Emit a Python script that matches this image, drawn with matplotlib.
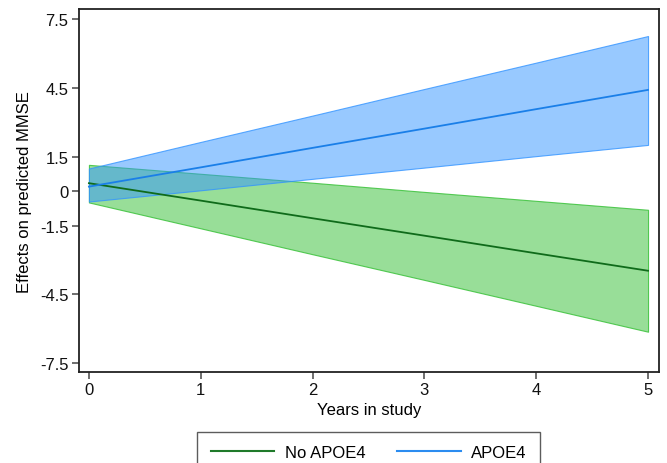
import matplotlib
matplotlib.use("Agg")
import matplotlib.pyplot as plt
from matplotlib.lines import Line2D

plt.rcParams['font.family'] = ['Liberation Sans', 'DejaVu Sans']

years = [0, 1, 2, 3, 4, 5]
no_apoe4_mean = [0.35, -0.41, -1.18, -1.94, -2.71, -3.47]
no_apoe4_upper = [1.15, 0.76, 0.37, -0.03, -0.42, -0.81]
no_apoe4_lower = [-0.49, -1.62, -2.75, -3.87, -5.00, -6.13]
apoe4_mean = [0.20, 1.04, 1.89, 2.73, 3.58, 4.42]
apoe4_upper = [0.99, 2.15, 3.30, 4.46, 5.61, 6.77]
apoe4_lower = [-0.45, 0.04, 0.54, 1.03, 1.53, 2.02]
yticks = [7.5, 4.5, 1.5, 0, -1.5, -4.5, -7.5]
ytick_labels = ["7.5", "4.5", "1.5", "0", "-1.5", "-4.5", "-7.5"]
xticks = [0, 1, 2, 3, 4, 5]
labels = ["No APOE4", "APOE4"]

fig = plt.figure(figsize=(6.67, 4.64), dpi=100)
ax = fig.add_axes([0.1184, 0.196, 0.8696, 0.782])

green_fill = (0.20, 0.75, 0.20, 0.5)
blue_fill = (0.20, 0.58, 1.0, 0.5)
ax.fill_between(years, no_apoe4_lower, no_apoe4_upper, facecolor=green_fill,
                edgecolor=(0.2, 0.75, 0.2, 0.8), linewidth=0.8, zorder=2)
ax.fill_between(years, apoe4_lower, apoe4_upper, facecolor=blue_fill,
                edgecolor=(0.2, 0.58, 1.0, 0.8), linewidth=0.8, zorder=2)
ax.plot(years, no_apoe4_mean, color='#0f6b1a', lw=1.3, zorder=3)
ax.plot(years, apoe4_mean, color='#1a7fe8', lw=1.3, zorder=3)

ax.set_xlim(-0.089, 5.098)
ax.set_ylim(-7.89, 7.94)
ax.set_yticks(yticks)
ax.set_yticklabels(ytick_labels)
ax.set_xticks(xticks)
ax.tick_params(axis='both', labelsize=12, direction='out', length=5, width=1.2,
               colors='#555555', labelcolor='#111111', pad=2.5)
for s in ax.spines.values():
    s.set_linewidth(1.3)
    s.set_color('#222222')
ax.set_xlabel("Years in study", fontsize=12, labelpad=3)
ax.set_ylabel("Effects on predicted MMSE", fontsize=12, labelpad=6)

handles = [Line2D([], [], color='#1f7a2a', lw=1.5), Line2D([], [], color='#2b8cf0', lw=1.5)]
leg = fig.legend(handles, labels, loc='upper center', bbox_to_anchor=(0.553, 0.067), ncol=2,
                 fontsize=12, frameon=True, fancybox=False, handlelength=3.8, handletextpad=0.65,
                 columnspacing=1.9, borderpad=0.8, borderaxespad=0)
leg.get_frame().set_edgecolor('#333333')
leg.get_frame().set_linewidth(1.0)

fig.savefig("out.png", dpi=100)
